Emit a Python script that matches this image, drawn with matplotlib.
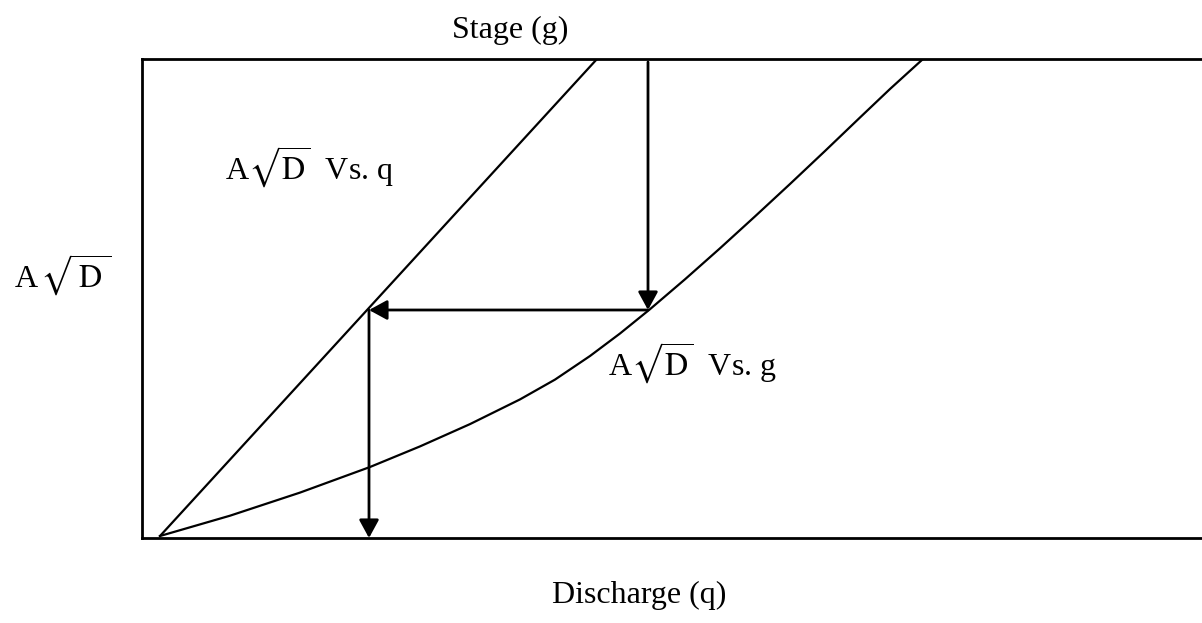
import matplotlib
matplotlib.use('Agg')
import matplotlib.pyplot as plt

plt.rcParams['font.family'] = ['Liberation Serif', 'DejaVu Serif']
plt.rcParams['mathtext.fontset'] = 'stix'

# Discharge (x) vs A*sqrt(D) (y)
recta_x = [1.8, 45.5]
recta_y = [0.2, 47.9]

curva_x = [1.8, 8.8, 15.8, 22.8, 27.8, 32.8, 37.8, 41.3, 44.8, 47.8, 50.8,
           54.3, 57.8, 61.3, 64.8, 68.3, 71.8, 74.8, 78.1]
curva_y = [0.2, 2.23, 4.54, 7.1, 9.16, 11.39, 13.86, 15.84, 18.2, 20.45, 22.88,
           25.87, 28.97, 32.16, 35.4, 38.7, 42.05, 44.9, 47.9]

# stage read -> curve -> straight line -> discharge
stage_x = 50.6
stage_y_top = 47.6
punto_y = 22.8
descarga_x = 22.7

W, H = 1202, 623
fig = plt.figure(figsize=(W / 100, H / 100), dpi=100)
ax = fig.add_axes([142 / W, 85 / H, 1 - 142 / W, 479 / H])
ax.set_xlim(0, 106)
ax.set_ylim(0, 47.9)
ax.set_xticks([])
ax.set_yticks([])
ax.spines['right'].set_visible(False)
for s in ['left', 'top', 'bottom']:
    ax.spines[s].set_linewidth(2)

ax.plot(recta_x, recta_y, color='black', lw=1.6)
ax.plot(curva_x, curva_y, color='black', lw=1.6)

flecha = dict(arrowstyle='-|>,head_length=0.55,head_width=0.3', color='black',
              lw=2, mutation_scale=20, shrinkA=0, shrinkB=0)
ax.annotate('', xy=(stage_x, punto_y), xytext=(stage_x, stage_y_top), arrowprops=flecha)
ax.annotate('', xy=(descarga_x, punto_y), xytext=(stage_x, punto_y), arrowprops=flecha)
ax.annotate('', xy=(descarga_x, 0), xytext=(descarga_x, punto_y), arrowprops=flecha)


def texto(px, py, s, **kw):
    fig.text(px / W, 1 - py / H, s, fontsize=23, va='baseline', **kw)


texto(510, 38, 'Stage (g)', ha='center')
texto(639, 603, 'Discharge (q)', ha='center')
texto(225, 180, r'A$\sqrt{\mathrm{D}}$  Vs. q', ha='left')
texto(608, 376, r'A$\sqrt{\mathrm{D}}$  Vs. g', ha='left')
texto(14, 288, r'A$\,\sqrt{\,\mathrm{D}\,}$', ha='left')

fig.savefig('out.png', dpi=100)
